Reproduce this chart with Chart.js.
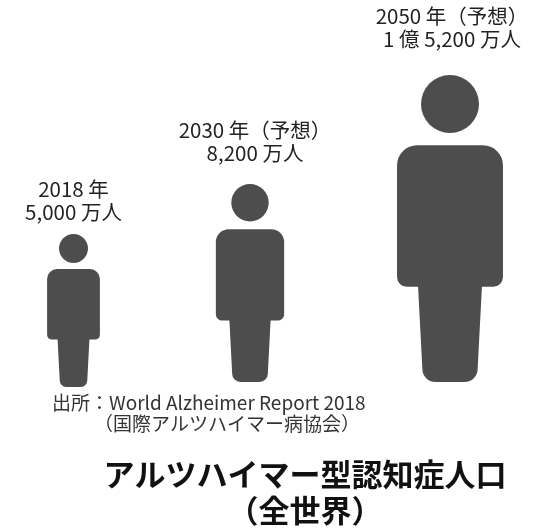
<!DOCTYPE html>
<html lang="ja">
<head>
<meta charset="utf-8">
<title>アルツハイマー型認知症人口</title>
<script src="https://cdn.jsdelivr.net/npm/chart.js@4"></script>
<style>
  html, body { margin: 0; padding: 0; background: #fff; }
  #box { position: relative; width: 547px; height: 528px; }
</style>
</head>
<body>
<div id="box"><canvas id="chart"></canvas></div>
<script>
// Data
var years = ['2018 年', '2030 年（予想）', '2050 年（予想）'];
var populations = ['5,000 万人', '8,200 万人', '1 億 5,200 万人'];
// height of each figure as drawn (figures are not to linear scale with population)
var figureHeights = [153, 198, 307];
var titleLines = ['アルツハイマー型認知症人口', '（全世界）'];
var sourceLines = ['出所：World Alzheimer Report 2018', '（国際アルツハイマー病協会）'];

var FONT = '"Noto Sans CJK JP", sans-serif';

// one standing figure, all proportions relative to its height
function drawPerson(ctx, cx, top, h) {
  var r = h * 0.0945;
  ctx.beginPath();
  ctx.arc(cx, top + r, r, 0, Math.PI * 2);
  ctx.fill();

  var bodyTop = top + h * 0.229, armBottom = top + h * 0.69, bottom = top + h;
  var bw = h * 0.1725, lt = h * 0.104, lb = h * 0.09;
  var r1 = h * 0.065, r2 = h * 0.032, r3 = h * 0.042;
  ctx.beginPath();
  ctx.moveTo(cx - bw + r1, bodyTop);
  ctx.lineTo(cx + bw - r1, bodyTop);
  ctx.arcTo(cx + bw, bodyTop, cx + bw, bodyTop + r1, r1);
  ctx.lineTo(cx + bw, armBottom - r2);
  ctx.arcTo(cx + bw, armBottom, cx + bw - r2, armBottom, r2);
  ctx.lineTo(cx + lt, armBottom);
  ctx.lineTo(cx + lb, bottom - r3);
  ctx.arcTo(cx + lb, bottom, cx + lb - r3, bottom, r3);
  ctx.lineTo(cx - lb + r3, bottom);
  ctx.arcTo(cx - lb, bottom, cx - lb, bottom - r3, r3);
  ctx.lineTo(cx - lt, armBottom);
  ctx.lineTo(cx - bw + r2, armBottom);
  ctx.arcTo(cx - bw, armBottom, cx - bw, armBottom - r2, r2);
  ctx.lineTo(cx - bw, bodyTop + r1);
  ctx.arcTo(cx - bw, bodyTop, cx - bw + r1, bodyTop, r1);
  ctx.closePath();
  ctx.fill();
}

function drawLines(ctx, lines, x, y, lineHeight, font, color, align) {
  ctx.font = font;
  ctx.fillStyle = color;
  ctx.textAlign = align || 'center';
  ctx.textBaseline = 'middle';
  lines.forEach(function(line, i) {
    ctx.fillText(line, x, y + i * lineHeight);
  });
}

// bars are replaced by figures; the bar element still gives x, top and base
var personPlugin = {
  id: 'person',
  beforeDatasetDraw: function(chart, args, opts) {
    var ctx = chart.ctx;
    chart.getDatasetMeta(args.index).data.forEach(function(bar, i) {
      var dx = opts.shiftX[i], dy = opts.shiftY[i];
      var top = bar.y + dy;
      ctx.save();
      ctx.fillStyle = bar.options.backgroundColor;
      drawPerson(ctx, bar.x + dx, top, bar.base - bar.y);
      drawLines(ctx, [years[i], populations[i]], bar.x + dx + opts.labelX[i], top + opts.labelY[i], 23,
        '20.5px ' + FONT, '#222');
      ctx.restore();
    });
    return false;
  },
  afterDraw: function(chart) {
    var ctx = chart.ctx;
    ctx.save();
    drawLines(ctx, [sourceLines[0]], 52, 403, 0, '19px ' + FONT, '#333', 'left');
    drawLines(ctx, [sourceLines[1]], 94, 424, 0, '19px ' + FONT, '#333', 'left');
    drawLines(ctx, titleLines, 305, 474, 36, 'bold 31px ' + FONT, '#111');
    ctx.restore();
  }
};

new Chart(document.getElementById('chart').getContext('2d'), {
  type: 'bar',
  data: {
    labels: years,
    datasets: [{
      label: 'アルツハイマー型認知症人口',
      data: figureHeights,
      backgroundColor: '#4d4d4d'
    }]
  },
  plugins: [personPlugin],
  options: {
    responsive: true,
    maintainAspectRatio: false,
    animation: false,
    layout: { padding: { left: 73.5, right: 97, top: 0, bottom: 146 } },
    plugins: {
      legend: { display: false },
      tooltip: { enabled: false },
      title: { display: false },
      person: {
        shiftX: [0, -11.75, 0],
        shiftY: [5, 0, 0],
        labelX: [0, 5, 2],
        labelY: [-45, -54, -59]
      }
    },
    scales: {
      x: { display: false, offset: false, grid: { display: false } },
      y: { display: false, min: 0, max: 382, grid: { display: false } }
    }
  }
});
</script>
</body>
</html>
